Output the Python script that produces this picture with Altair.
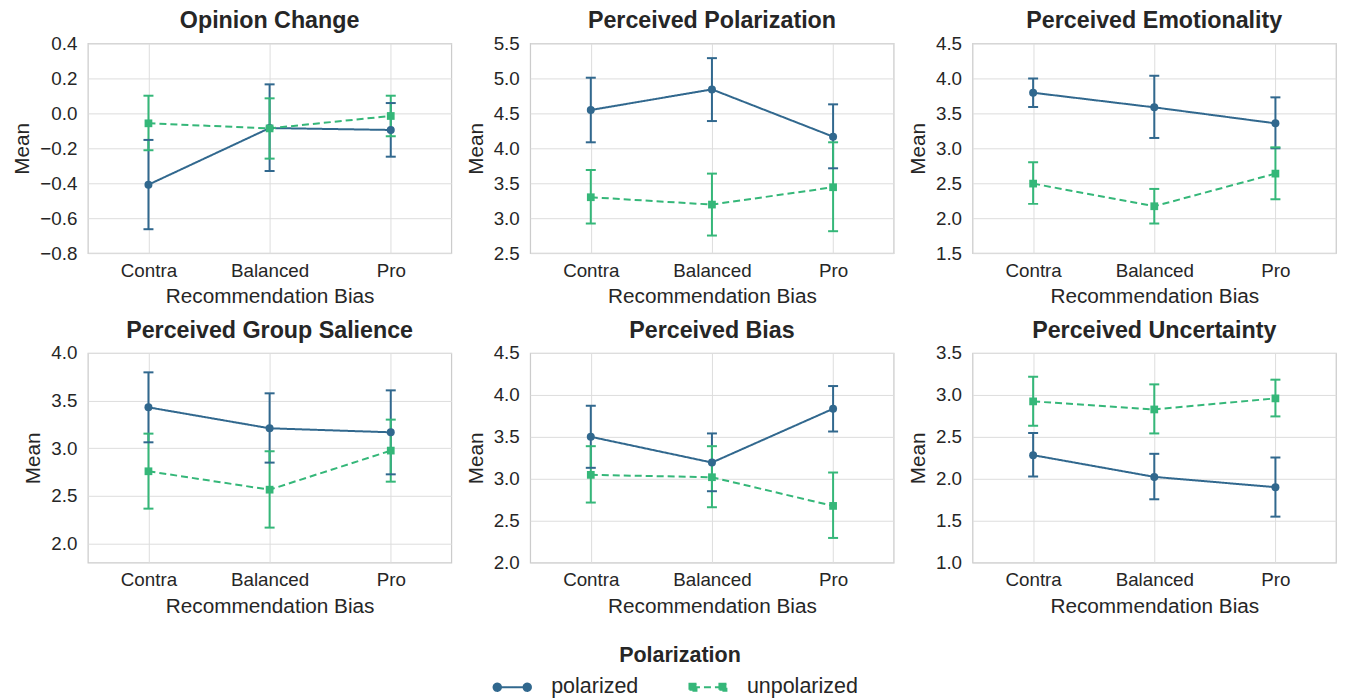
import altair as alt
import pandas as pd

# ---------------- data ----------------
titles = ["Opinion Change", "Perceived Polarization", "Perceived Emotionality",
          "Perceived Group Salience", "Perceived Bias", "Perceived Uncertainty"]
categories = ["Contra", "Balanced", "Pro"]
groups = ["polarized", "unpolarized"]

polarized_mean = [[-0.408, -0.084, -0.095], [4.548, 4.843, 4.167], [3.795, 3.586, 3.357],
                  [3.430, 3.210, 3.168], [3.501, 3.194, 3.835], [2.282, 2.023, 1.900]]
polarized_lo = [[-0.663, -0.330, -0.248], [4.086, 4.390, 3.714], [3.590, 3.148, 3.000],
                [3.063, 2.850, 2.727], [3.131, 2.852, 3.564], [2.027, 1.756, 1.549]]
polarized_hi = [[-0.152, 0.166, 0.059], [5.010, 5.290, 4.629], [4.000, 4.038, 3.729],
                [3.797, 3.577, 3.608], [3.871, 3.541, 4.106], [2.545, 2.298, 2.254]]

unpolarized_mean = [[-0.057, -0.086, -0.015], [3.300, 3.195, 3.443], [2.495, 2.171, 2.638],
                    [2.759, 2.566, 2.976], [3.047, 3.019, 2.677], [2.923, 2.827, 2.959]]
unpolarized_lo = [[-0.211, -0.259, -0.131], [2.924, 2.752, 2.814], [2.205, 1.924, 2.271],
                  [2.367, 2.168, 2.650], [2.717, 2.661, 2.295], [2.632, 2.541, 2.744]]
unpolarized_hi = [[0.101, 0.086, 0.101], [3.690, 3.638, 4.086], [2.800, 2.419, 3.014],
                  [3.154, 2.969, 3.301], [3.389, 3.389, 3.075], [3.217, 3.126, 3.182]]

y_domains = [[-0.8, 0.4], [2.5, 5.5], [1.5, 4.5], [1.8, 4.0], [2.0, 4.5], [1.0, 3.5]]
y_ticks = [[-0.8, -0.6, -0.4, -0.2, 0.0, 0.2, 0.4],
           [2.5, 3.0, 3.5, 4.0, 4.5, 5.0, 5.5],
           [1.5, 2.0, 2.5, 3.0, 3.5, 4.0, 4.5],
           [2.0, 2.5, 3.0, 3.5, 4.0],
           [2.0, 2.5, 3.0, 3.5, 4.0, 4.5],
           [1.0, 1.5, 2.0, 2.5, 3.0, 3.5]]

# ---------------- style ----------------
FONT = "Liberation Sans"
TXT = "#262626"
C_POL = "#31688e"
C_UNP = "#35b779"

W, H = 364, 210

line_circ = ("M -1.5 0 L 1.5 0 "
             "M -1.87 0 A 0.37 0.37 0 1 0 -1.13 0 A 0.37 0.37 0 1 0 -1.87 0 Z "
             "M 1.13 0 A 0.37 0.37 0 1 0 1.87 0 A 0.37 0.37 0 1 0 1.13 0 Z")
line_sq = ("M -1.5 0 L 1.5 0 "
           "M -1.85 -0.35 L -1.15 -0.35 L -1.15 0.35 L -1.85 0.35 Z "
           "M 1.15 -0.35 L 1.85 -0.35 L 1.85 0.35 L 1.15 0.35 Z")

legend = alt.Legend(
    title="Polarization",
    orient="none",
    legendX=414,
    legendY=602,
    direction="horizontal",
    titleAnchor="middle",
    titleOrient="top",
    titleFontSize=21.5,
    titleFontWeight="bold",
    titleColor=TXT,
    titleFont=FONT,
    titlePadding=10,
    labelFontSize=21.5,
    labelColor=TXT,
    labelFont=FONT,
    labelOffset=28,
    columnPadding=46,
    symbolSize=400,
    symbolStrokeWidth=2,
    symbolOpacity=1,
    padding=0,
)

# colour scale for the visible marks: data-driven domain (kept apart from the legend scales)
color_scale = alt.Scale(range=[C_POL, C_UNP])
# scales that drive the legend
legend_color_scale = alt.Scale(domain=groups, range=[C_POL, C_UNP])
dash_scale = alt.Scale(domain=groups, range=[[1, 0], [7, 4]])
shape_scale = alt.Scale(domain=groups, range=[line_circ, line_sq])


def panel(i):
    rows = []
    for g, m, lo, hi in [("polarized", polarized_mean, polarized_lo, polarized_hi),
                         ("unpolarized", unpolarized_mean, unpolarized_lo, unpolarized_hi)]:
        for j, c in enumerate(categories):
            rows.append({"Bias": c, "Polarization": g, "Mean": m[i][j],
                         "lo": lo[i][j], "hi": hi[i][j]})
    df = pd.DataFrame(rows)

    x = alt.X("Bias:N", sort=categories, title="Recommendation Bias",
              scale=alt.Scale(type="point", padding=0.5),
              axis=alt.Axis(labelAngle=0, grid=True, ticks=False, domain=False,
                            labelPadding=8, titlePadding=7))
    yscale = alt.Scale(domain=y_domains[i], nice=False, zero=False)
    yaxis = alt.Axis(values=y_ticks[i], format=".1f", grid=True, ticks=False,
                     domain=False, labelPadding=11, titlePadding=7,
                     labelOverlap=False, title="Mean")

    def Y(field):
        return alt.Y(field, scale=yscale, axis=yaxis, title="Mean")

    color = alt.Color("Polarization:N", scale=color_scale, legend=None)
    dash = alt.StrokeDash("Polarization:N", scale=dash_scale, legend=legend, title="Polarization")

    base = alt.Chart(df)
    rules = base.mark_rule(strokeWidth=2, opacity=1).encode(
        x=x, y=Y("lo:Q"), y2="hi:Q", color=color)
    cap_lo = base.mark_tick(thickness=2, size=10, opacity=1).encode(x=x, y=Y("lo:Q"), color=color)
    cap_hi = base.mark_tick(thickness=2, size=10, opacity=1).encode(x=x, y=Y("hi:Q"), color=color)
    lines = base.mark_line(strokeWidth=2).encode(
        x=x, y=Y("Mean:Q"), color=color, strokeDash=dash)
    pts_pol = base.transform_filter(alt.datum.Polarization == "polarized").mark_point(
        filled=True, opacity=1, size=64, shape="circle").encode(
        x=x, y=Y("Mean:Q"), color=color)
    pts_unp = base.transform_filter(alt.datum.Polarization == "unpolarized").mark_point(
        filled=True, opacity=1, size=60, shape="square").encode(
        x=x, y=Y("Mean:Q"), color=color)
    # invisible layer that carries the legend symbol (line with markers)
    legend_layer = base.mark_point(opacity=0, strokeWidth=2).encode(
        x=x, y=Y("Mean:Q"),
        fill=alt.Fill("Polarization:N", scale=legend_color_scale, legend=legend, title="Polarization"),
        stroke=alt.Stroke("Polarization:N", scale=legend_color_scale, legend=legend, title="Polarization"),
        shape=alt.Shape("Polarization:N", scale=shape_scale, legend=legend, title="Polarization"),
        strokeDash=dash)
    return alt.layer(rules, cap_lo, cap_hi, lines, pts_pol, pts_unp, legend_layer).properties(
        width=W, height=H,
        title=alt.TitleParams(titles[i], fontSize=23.3, fontWeight="bold", color=TXT,
                              font=FONT, offset=1, anchor="middle"))


chart = alt.concat(
    *[panel(i) for i in range(6)], columns=3,
    spacing=alt.RowColnumber(row=100, column=79), bounds="flush"
).configure_view(
    stroke="#cccccc", strokeWidth=1.25
).configure_axis(
    labelFont=FONT, titleFont=FONT, labelFontSize=18.8, titleFontSize=20.8,
    labelColor=TXT, titleColor=TXT, titleFontWeight="normal",
    gridColor="#dddddd", gridWidth=1
).properties(
    padding={"left": 3, "top": 0, "right": 0, "bottom": 0}
)

chart.save("out.html", embed_options={"renderer": "svg", "actions": False})
